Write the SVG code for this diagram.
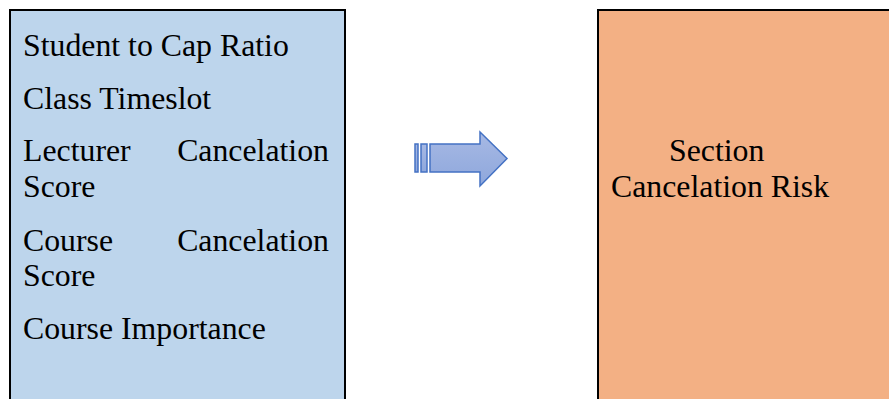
<svg xmlns="http://www.w3.org/2000/svg" width="889" height="399" viewBox="0 0 889 399">
<defs>
<linearGradient id="ag" x1="0" y1="0" x2="0" y2="1">
<stop offset="0" stop-color="#a7b9e4"/>
<stop offset="1" stop-color="#8ea7dc"/>
</linearGradient>
<style>
.t{font-family:"Liberation Serif","Times New Roman",serif;font-size:31.8px;fill:#000}
.box{stroke:#000;stroke-width:2}
</style>
</defs>
<g id="inputs">
<rect class="box" x="10" y="10" width="335" height="400" fill="#bdd5ec"/>
<text class="t" x="23" y="56">Student to Cap Ratio</text>
<text class="t" x="23" y="109">Class Timeslot</text>
<text class="t" x="23" y="161">Lecturer</text>
<text class="t" x="329" y="161" text-anchor="end">Cancelation</text>
<text class="t" x="23" y="197">Score</text>
<text class="t" x="23" y="251">Course</text>
<text class="t" x="329" y="251" text-anchor="end">Cancelation</text>
<text class="t" x="23" y="286">Score</text>
<text class="t" x="23" y="339">Course Importance</text>
</g>
<g id="connectors">
<g fill="url(#ag)" stroke="#4472c4" stroke-width="1.5">
<rect x="415" y="144" width="3" height="28"/>
<rect x="421" y="144" width="6" height="28"/>
<path d="M430 144 H480 V132 L507 158.5 L480 186 V172 H430 Z"/>
</g>
</g>
<g id="output">
<rect class="box" x="598" y="10" width="300" height="400" fill="#f3b084"/>
<text class="t" x="669" y="161">Section</text>
<text class="t" x="611" y="197">Cancelation Risk</text>
</g>
</svg>
